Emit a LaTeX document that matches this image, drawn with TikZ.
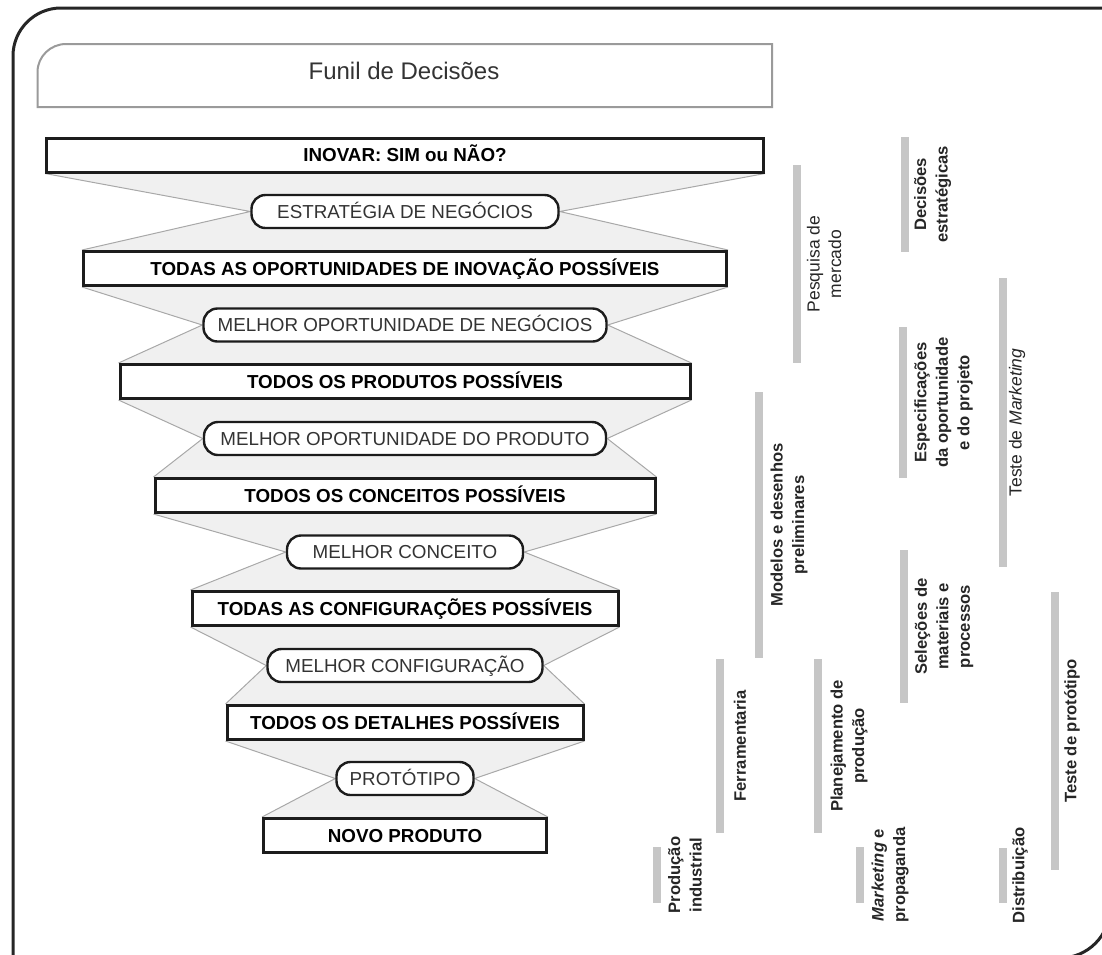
\documentclass[tikz,border=0pt]{standalone}
\usepackage{fontspec}
\setmainfont{Liberation Sans}
\usetikzlibrary{backgrounds}

\definecolor{framecol}{HTML}{262626}
\definecolor{titleline}{HTML}{9A9A9A}
\definecolor{softtext}{HTML}{333333}
\definecolor{boxline}{HTML}{1C1C1C}
\definecolor{funnelfill}{HTML}{F0F0F0}
\definecolor{funnelline}{HTML}{A8A8A8}
\definecolor{barcol}{HTML}{C6C6C6}
\definecolor{labeltext}{HTML}{262626}

\tikzset{
  frameline/.style={draw=framecol, line width=3pt},
  stagebox/.style={draw=boxline, line width=3pt, fill=white, minimum height=34pt,
    inner sep=0pt, text height=13.5pt, text depth=0pt,
    font=\fontsize{18.8}{22}\selectfont\bfseries, text=black},
  choice/.style={draw=boxline, line width=2.4pt, fill=white, rounded corners=14pt,
    minimum height=33pt, inner sep=0pt, text height=13.5pt, text depth=0pt,
    font=\fontsize{18.8}{22}\selectfont, text=softtext},
  edge/.style={draw=funnelline, line width=1pt},
  bar/.style={draw=barcol, line width=8pt},
  tag/.style={rotate=90, align=center, text=labeltext, inner sep=0pt,
    font=\fontsize{16.6}{21.5}\selectfont\bfseries},
  plaintag/.style={tag, font=\fontsize{17.5}{21.5}\selectfont},
}

% shaded wedge between a stage box, its choice and the next stage box
\newcommand\funnelgap[3]{%
  \fill[funnelfill] (#1.south west) -- (#1.south east) -- (#2.east)
    -- (#3.north east) -- (#3.north west) -- (#2.west) -- cycle;
  \draw[edge] (#1.south west) -- (#2.west) -- (#3.north west);
  \draw[edge] (#1.south east) -- (#2.east) -- (#3.north east);
}

% grey bar with its rotated caption: name, bar x, y top, y bottom, caption x, style, text
\newcommand\sidelabel[7]{%
  \draw[bar] (#2,#3) -- (#2,#4);
  \node[#6] (#1) at (#5,{(#3+#4)/2}) {#7};
}

\begin{document}
\begin{tikzpicture}[x=1pt, y=-1pt]
\useasboundingbox (0,0) rectangle (1102,954);
\clip (0,0) rectangle (1102,954);

% outer frame: rounded top-left and bottom-right corners
\draw[frameline] (13,1000) -- (13,56) .. controls (13,29.5) and (34.5,8) .. (61,8) -- (1150,8);
\draw[frameline] (1110,850) -- (1110,908) .. controls (1110,935.6) and (1087.6,958) .. (1060,958) -- (1000,958);

% title box
\draw[titleline, line width=2pt] (772,44) -- (772,107) -- (37.5,107) -- (37.5,72)
  .. controls (37.5,56.5) and (50.5,44) .. (66,44) -- cycle;
\node[font=\fontsize{24}{28}\selectfont, text=softtext] (title) at (404,71) {Funil de Decisões};

% funnel stages
\node[stagebox, minimum width=717pt] (b1) at (405,155)   {INOVAR: SIM ou NÃO?};
\node[choice,   minimum width=307pt] (s1) at (405,211.5) {ESTRATÉGIA DE NEGÓCIOS};
\node[stagebox, minimum width=643pt] (b2) at (405,268.5) {TODAS AS OPORTUNIDADES DE INOVAÇÃO POSSÍVEIS};
\node[choice,   minimum width=403pt] (s2) at (405,325)   {MELHOR OPORTUNIDADE DE NEGÓCIOS};
\node[stagebox, minimum width=570pt] (b3) at (405,381.5) {TODOS OS PRODUTOS POSSÍVEIS};
\node[choice,   minimum width=402pt] (s3) at (405,438.5) {MELHOR OPORTUNIDADE DO PRODUTO};
\node[stagebox, minimum width=500pt] (b4) at (405,495.5) {TODOS OS CONCEITOS POSSÍVEIS};
\node[choice,   minimum width=236pt] (s4) at (405,552)   {MELHOR CONCEITO};
\node[stagebox, minimum width=426pt] (b5) at (405,608.5) {TODAS AS CONFIGURAÇÕES POSSÍVEIS};
\node[choice,   minimum width=275pt] (s5) at (405,665.5) {MELHOR CONFIGURAÇÃO};
\node[stagebox, minimum width=356pt] (b6) at (405,722.5) {TODOS OS DETALHES POSSÍVEIS};
\node[choice,   minimum width=137pt] (s6) at (405,778.5) {PROTÓTIPO};
\node[stagebox, minimum width=283pt] (b7) at (405,835.5) {NOVO PRODUTO};

\begin{scope}[on background layer]
  \funnelgap{b1}{s1}{b2}
  \funnelgap{b2}{s2}{b3}
  \funnelgap{b3}{s3}{b4}
  \funnelgap{b4}{s4}{b5}
  \funnelgap{b5}{s5}{b6}
  \funnelgap{b6}{s6}{b7}
\end{scope}

% activities alongside the funnel
\sidelabel{pesq}{797}{165}{363}{824}{plaintag}{Pesquisa de\\mercado}
\sidelabel{decis}{905}{137}{252}{932.5}{tag}{Decisões\\estratégicas}
\sidelabel{espec}{903}{327}{478}{943.5}{tag}{Especificações\\da oportunidade\\e do projeto}
\sidelabel{tmark}{1003}{278}{567}{1017}{plaintag}{Teste de \textit{Marketing}}
\sidelabel{model}{759}{392}{658}{789}{tag}{Modelos e desenhos\\preliminares}
\sidelabel{selec}{904}{550}{703}{944}{tag}{Seleções de\\materiais e\\processos}
\sidelabel{tprot}{1055}{592}{870}{1072}{tag}{Teste de protótipo}
\sidelabel{ferr}{720}{659}{833}{740}{tag}{Ferramentaria}
\sidelabel{plan}{818}{659}{833}{849}{tag}{Planejamento de\\produção}
\sidelabel{prod}{657}{847}{903}{685}{tag}{Produção\\industrial}
\sidelabel{mkt}{860}{847}{903}{890}{tag}{\textit{Marketing} e\\propaganda}
\sidelabel{dist}{1003}{848}{903}{1020}{tag}{Distribuição}
\end{tikzpicture}
\end{document}
